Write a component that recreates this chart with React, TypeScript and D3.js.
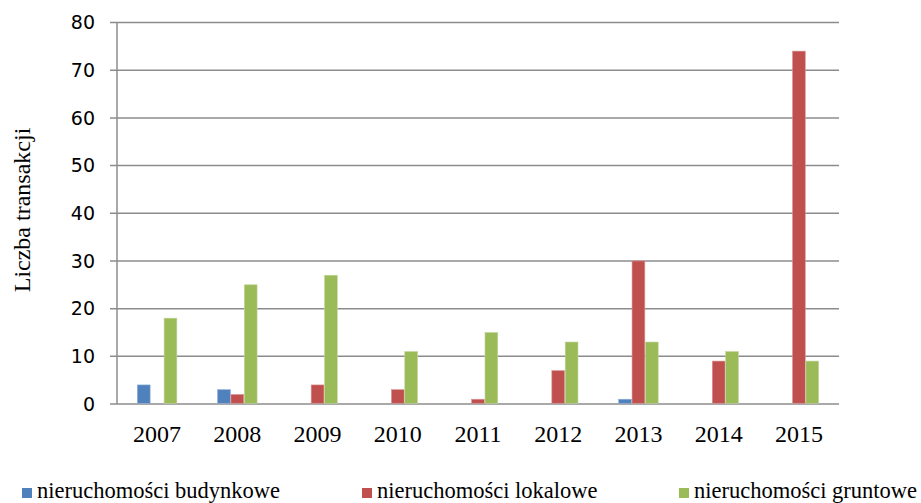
import React, { useRef, useEffect } from "react";
import * as d3 from "d3";

/* data */
const YEARS = ["2007", "2008", "2009", "2010", "2011", "2012", "2013", "2014", "2015"];
const SERIES = ["nieruchomości budynkowe", "nieruchomości lokalowe", "nieruchomości gruntowe"];
const BUDYNKOWE = [4, 3, 0, 0, 0, 0, 1, 0, 0];
const LOKALOWE = [0, 2, 4, 3, 1, 7, 30, 9, 74];
const GRUNTOWE = [18, 25, 27, 11, 15, 13, 13, 11, 9];
const Y_TICKS = [0, 10, 20, 30, 40, 50, 60, 70, 80];
const COLORS = ["#4F81BD", "#C0504D", "#9BBB59"];
const EDGES = ["#8FB0D8", "#D99694", "#C3D69B"];
const LEGEND_X = [22, 362, 679];

export default function App() {
  const svgRef = useRef<SVGSVGElement>(null);

  useEffect(() => {
    /* ---- layout ---- */
    const left = 117;
    const right = 839;
    const top = 22.5;
    const bottom = 404;
    const serif = "'Liberation Serif'";
    const sans = "'DejaVu Sans'";

    const values = [BUDYNKOWE, LOKALOWE, GRUNTOWE];

    const x0 = d3.scaleBand().domain(YEARS).range([left, right]).paddingInner(0.5).paddingOuter(0.25);
    const x1 = d3.scaleBand().domain(SERIES).range([0, x0.bandwidth()]);
    const y = d3.scaleLinear().domain([0, 80]).range([bottom, top]);

    const svg = d3.select(svgRef.current);
    svg.selectAll("*").remove();

    /* ---- gridlines ---- */
    svg
      .append("g")
      .selectAll("line")
      .data(Y_TICKS)
      .enter()
      .append("line")
      .attr("x1", left - 7)
      .attr("x2", right)
      .attr("y1", (d) => y(d))
      .attr("y2", (d) => y(d))
      .attr("stroke", "#8c8c8c")
      .attr("stroke-width", 1.5);

    svg
      .append("line")
      .attr("x1", left)
      .attr("x2", left)
      .attr("y1", top)
      .attr("y2", bottom)
      .attr("stroke", "#8c8c8c")
      .attr("stroke-width", 1.5);

    /* ---- bars ---- */
    const rows = YEARS.flatMap((yr, i) =>
      SERIES.map((s, k) => ({ yr, s, k, v: values[k][i] }))
    ).filter((d) => d.v > 0);

    svg
      .append("g")
      .selectAll("rect")
      .data(rows)
      .enter()
      .append("rect")
      .attr("x", (d) => x0(d.yr)! + x1(d.s)! + 0.3)
      .attr("y", (d) => y(d.v))
      .attr("width", x1.bandwidth() - 0.6)
      .attr("height", (d) => bottom - y(d.v) - 0.75)
      .attr("fill", (d) => COLORS[d.k])
      .attr("stroke", (d) => EDGES[d.k])
      .attr("stroke-width", 0.6);

    /* ---- y tick labels ---- */
    svg
      .append("g")
      .selectAll("text")
      .data(Y_TICKS)
      .enter()
      .append("text")
      .attr("x", 95)
      .attr("y", (d) => y(d))
      .attr("dy", "0.36em")
      .attr("text-anchor", "end")
      .attr("font-family", sans)
      .style("font-family", sans)
      .style("font-size", "19px")
      .attr("fill", "#000")
      .text((d) => String(d));

    /* ---- x labels ---- */
    svg
      .append("g")
      .selectAll("text")
      .data(YEARS)
      .enter()
      .append("text")
      .attr("x", (d) => x0(d)! + x0.bandwidth() / 2)
      .attr("y", 442)
      .attr("text-anchor", "middle")
      .attr("font-family", serif)
      .style("font-family", serif)
      .style("font-size", "24px")
      .attr("fill", "#000")
      .text((d) => d);

    /* ---- y title ---- */
    svg
      .append("text")
      .attr("transform", "translate(30,210) rotate(-90)")
      .attr("text-anchor", "middle")
      .attr("font-family", serif)
      .style("font-family", serif)
      .style("font-size", "24px")
      .attr("fill", "#000")
      .text("Liczba transakcji");

    /* ---- legend ---- */
    const lg = svg
      .append("g")
      .selectAll("g")
      .data(SERIES)
      .enter()
      .append("g")
      .attr("transform", (_, k) => `translate(${LEGEND_X[k]},0)`);

    lg.append("rect")
      .attr("y", 488)
      .attr("width", 10)
      .attr("height", 10)
      .attr("fill", (_, k) => COLORS[k]);

    lg.append("text")
      .attr("x", 15)
      .attr("y", 498)
      .attr("font-family", serif)
      .style("font-family", serif)
      .style("font-size", "22.5px")
      .attr("fill", "#000")
      .text((d) => d);
  }, []);

  return (
    <svg
      ref={svgRef}
      width={921}
      height={503}
      style={{ position: "absolute", left: 0, top: 0 }}
    />
  );
}
